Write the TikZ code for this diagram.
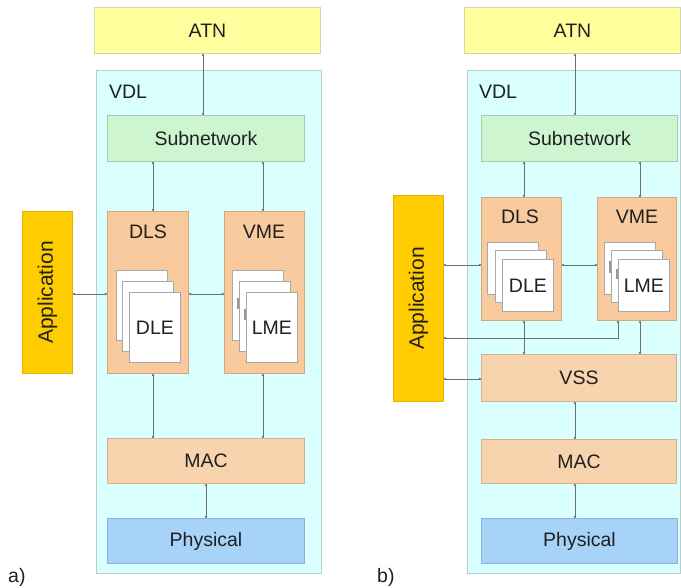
\documentclass[tikz,border=0pt]{standalone}
\usepackage{fontspec}
\setmainfont{Liberation Sans}
\usetikzlibrary{arrows.meta}
\definecolor{atnfill}{HTML}{FFFF9E}
\definecolor{atnline}{HTML}{D4D4B0}
\definecolor{vdlfill}{HTML}{D9FFFF}
\definecolor{vdlline}{HTML}{B9CDCD}
\definecolor{subfill}{HTML}{CCF5D0}
\definecolor{subline}{HTML}{A8CCA8}
\definecolor{dlsfill}{HTML}{F9CA9E}
\definecolor{dlsline}{HTML}{D4A77E}
\definecolor{macfill}{HTML}{F7D4AE}
\definecolor{macline}{HTML}{D2B08C}
\definecolor{phyfill}{HTML}{A7D3F8}
\definecolor{phyline}{HTML}{88B4D8}
\definecolor{appfill}{HTML}{FFCC00}
\definecolor{appline}{HTML}{E0B400}
\definecolor{pageline}{HTML}{A8A8A8}
\definecolor{connline}{HTML}{6E6E6E}
\definecolor{txt}{HTML}{202020}
\tikzset{
  blk/.style={anchor=north west, inner sep=0, line width=1pt, text=txt,
    font=\fontsize{19.5}{22}\selectfont},
  atnbox/.style={blk, fill=atnfill, draw=atnline},
  vdlbox/.style={blk, fill=vdlfill, draw=vdlline, line width=1.2pt},
  subbox/.style={blk, fill=subfill, draw=subline},
  dlsbox/.style={blk, fill=dlsfill, draw=dlsline},
  macbox/.style={blk, fill=macfill, draw=macline},
  phybox/.style={blk, fill=phyfill, draw=phyline},
  appbox/.style={blk, fill=appfill, draw=appline},
  page/.style={blk, fill=white, draw=pageline, line width=0.8pt,
    minimum width=51, minimum height=70},
  pagesmall/.style={page, minimum height=52},
  peek/.style={draw=gray!80, line width=1.8pt},
  lbl/.style={text=txt, inner sep=0, font=\fontsize{19.5}{22}\selectfont},
  conn/.style={draw=connline, line width=0.7pt,
    {Circle[length=2.2pt]}-{Circle[length=2.2pt]}},
}
\begin{document}
\begin{tikzpicture}[x=1pt, y=-1pt]
\useasboundingbox (0,0) rectangle (681,588);

% ---------------- a) ----------------
\node[atnbox, minimum width=226, minimum height=46] (atnA) at (94,7) {ATN};
\node[vdlbox, minimum width=225, minimum height=503] (vdlA) at (96,70) {};
\node[lbl] (vdlAt) at (128,92) {VDL};
\node[subbox, minimum width=197, minimum height=46] (subA) at (107,115) {Subnetwork};
\node[appbox, minimum width=50, minimum height=162] (appA) at (22,211)
  {\rotatebox{90}{\fontsize{21}{24}\selectfont Application}};
\node[dlsbox, minimum width=81, minimum height=162] (dlsA) at (107,211) {};
\node[lbl] (dlsAt) at (148,232) {DLS};
\node[dlsbox, minimum width=80, minimum height=162] (vmeA) at (224,211) {};
\node[lbl] (vmeAt) at (264,232) {VME};
\node[page] (dleA1) at (116,270) {};
\node[page] (dleA2) at (122,281) {};
\node[page] (dleA3) at (129,292) {DLE};
\node[page] (lmeA1) at (232,270) {};
\draw[peek] (238.3,298) -- (238.3,309);
\node[page] (lmeA2) at (239,281) {};
\draw[peek] (245,309) -- (245,320);
\node[page] (lmeA3) at (246,292) {LME};
\node[macbox, minimum width=197, minimum height=45] (macA) at (107,438) {MAC};
\node[phybox, minimum width=197, minimum height=45] (phyA) at (107,518) {Physical};
\node[lbl, anchor=west] (capA) at (8,577) {a)};

\draw[conn] (atnA.south -| 203,0) -- (subA.north -| 203,0);
\draw[conn] (subA.south -| 153,0) -- (dlsA.north -| 153,0);
\draw[conn] (subA.south -| 263,0) -- (vmeA.north -| 263,0);
\draw[conn] (appA.east |- 0,294) -- (dlsA.west |- 0,294);
\draw[conn] (dlsA.east |- 0,294) -- (vmeA.west |- 0,294);
\draw[conn] (dlsA.south -| 153,0) -- (macA.north -| 153,0);
\draw[conn] (vmeA.south -| 263,0) -- (macA.north -| 263,0);
\draw[conn] (macA.south -| 206,0) -- (phyA.north -| 206,0);

% ---------------- b) ----------------
\node[atnbox, minimum width=216, minimum height=46] (atnB) at (464,7) {ATN};
\node[vdlbox, minimum width=213, minimum height=503] (vdlB) at (467,70) {};
\node[lbl] (vdlBt) at (498,92) {VDL};
\node[subbox, minimum width=196, minimum height=46] (subB) at (481,115) {Subnetwork};
\node[appbox, minimum width=50, minimum height=206] (appB) at (393,195)
  {\rotatebox{90}{\fontsize{21}{24}\selectfont Application}};
\node[dlsbox, minimum width=80, minimum height=123] (dlsB) at (481,197) {};
\node[lbl] (dlsBt) at (520,217) {DLS};
\node[dlsbox, minimum width=79, minimum height=123] (vmeB) at (597,197) {};
\node[lbl] (vmeBt) at (637,217) {VME};
\node[pagesmall] (dleB1) at (487,242) {};
\node[pagesmall] (dleB2) at (495,250.5) {};
\node[pagesmall] (dleB3) at (502,259) {DLE};
\node[pagesmall] (lmeB1) at (604,242) {};
\draw[peek] (610,261) -- (610,273);
\node[pagesmall] (lmeB2) at (611,250.5) {};
\draw[peek] (617,269) -- (617,279);
\node[pagesmall] (lmeB3) at (618,259) {LME};
\node[macbox, minimum width=195, minimum height=47] (vssB) at (481,354) {VSS};
\node[macbox, minimum width=195, minimum height=44] (macB) at (481,439) {MAC};
\node[phybox, minimum width=196, minimum height=45] (phyB) at (481,518) {Physical};
\node[lbl, anchor=west] (capB) at (377,577) {b)};

\draw[conn] (atnB.south -| 575,0) -- (subB.north -| 575,0);
\draw[conn] (subB.south -| 524,0) -- (dlsB.north -| 524,0);
\draw[conn] (subB.south -| 640,0) -- (vmeB.north -| 640,0);
\draw[conn] (appB.east |- 0,265) -- (dlsB.west |- 0,265);
\draw[conn] (dlsB.east |- 0,265) -- (vmeB.west |- 0,265);
\draw[conn] (vmeB.south -| 618,0) |- (appB.east |- 0,338);
\draw[conn] (dlsB.south -| 524,0) -- (vssB.north -| 524,0);
\draw[conn] (vmeB.south -| 640,0) -- (vssB.north -| 640,0);
\draw[conn] (appB.east |- 0,379) -- (vssB.west |- 0,379);
\draw[conn] (vssB.south -| 575,0) -- (macB.north -| 575,0);
\draw[conn] (macB.south -| 575,0) -- (phyB.north -| 575,0);
\end{tikzpicture}
\end{document}
